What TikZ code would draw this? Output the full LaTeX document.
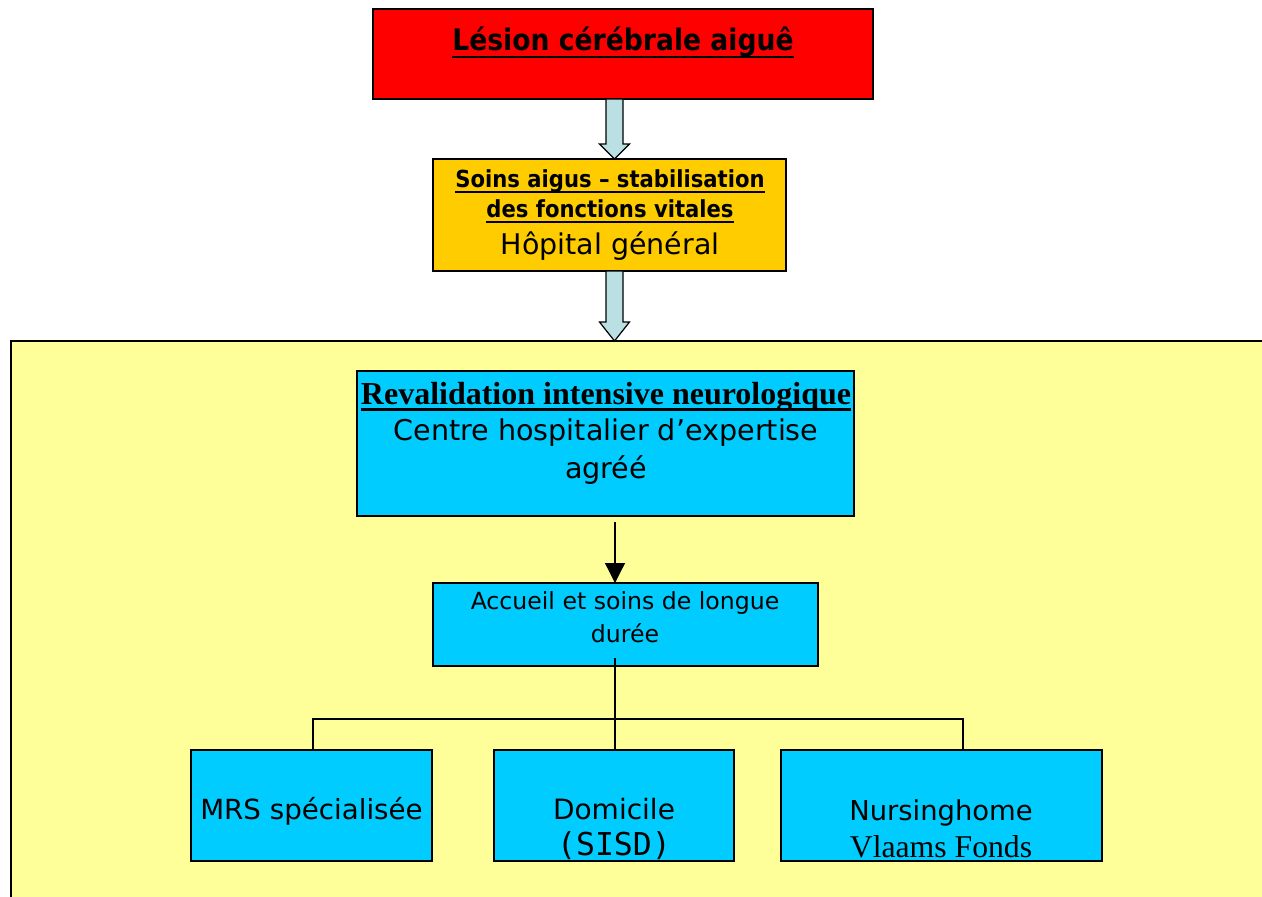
\documentclass[tikz,border=0pt]{standalone}
\usepackage{fontspec}
\setmainfont{DejaVu Sans}
\newfontfamily\cond{DejaVu Sans Condensed}
\newfontfamily\tms{Liberation Serif}
\newfontfamily\monof{DejaVu Sans Mono}
\usetikzlibrary{arrows.meta,calc}
\definecolor{redbox}{HTML}{FF0000}
\definecolor{orangebox}{HTML}{FFCC00}
\definecolor{yellowbg}{HTML}{FFFF99}
\definecolor{cyanbox}{HTML}{00CCFF}
\definecolor{arrowfill}{HTML}{BBE0E3}
\newcommand\myul[3]{\leavevmode\setbox0=\hbox{#3}\rlap{\rule[-#1]{\wd0}{#2}}\box0}
\tikzset{
  boxst/.style={draw=black, line width=1.5pt, inner sep=0pt, outer sep=0pt, anchor=north west},
  txt/.style={inner sep=0pt, anchor=base},
  blockarrow/.style={draw=black, line width=1.2pt, fill=arrowfill, line join=miter},
  conn/.style={draw=black, line width=1.3pt}
}
\begin{document}
\begin{tikzpicture}[x=1pt,y=-1pt]
\useasboundingbox (0,0) rectangle (1262,897);
\clip (0,0) rectangle (1262,897);
% yellow background area
\node[boxst, fill=yellowbg, minimum width=1270pt, minimum height=580pt] (bg) at (11,341) {};
% boxes
\node[boxst, fill=redbox, minimum width=500pt, minimum height=90pt] (red) at (373,9) {};
\node[boxst, fill=orangebox, minimum width=353pt, minimum height=112pt] (orange) at (433,159) {};
\node[boxst, fill=cyanbox, minimum width=497pt, minimum height=145pt] (reval) at (357,371) {};
\node[boxst, fill=cyanbox, minimum width=385pt, minimum height=83pt] (accueil) at (433,583) {};
\node[boxst, fill=cyanbox, minimum width=241pt, minimum height=111pt] (mrs) at (191,750) {};
\node[boxst, fill=cyanbox, minimum width=240pt, minimum height=111pt] (dom) at (494,750) {};
\node[boxst, fill=cyanbox, minimum width=321pt, minimum height=111pt] (nurs) at (781,750) {};
% texts
\node[txt] (t1) at (623,50) {\fontsize{29.6}{36}\selectfont\cond\bfseries\myul{8pt}{2.5pt}{Lésion cérébrale aiguê}};
\node[txt] (t2a) at (610,187) {\fontsize{23.5}{28}\selectfont\cond\bfseries\myul{6pt}{2pt}{Soins aigus – stabilisation}};
\node[txt] (t2b) at (610,217) {\fontsize{23.5}{28}\selectfont\cond\bfseries\myul{6pt}{2pt}{des fonctions vitales}};
\node[txt] (t2c) at (610,254) {\fontsize{28.5}{32}\selectfont Hôpital général};
\node[txt] (t3a) at (606,404) {\fontsize{32}{36}\selectfont\tms\bfseries\myul{6.5pt}{3pt}{Revalidation intensive neurologique}};
\node[txt] (t3b) at (606,440) {\fontsize{28.6}{32}\selectfont Centre hospitalier d’expertise};
\node[txt] (t3c) at (606,478) {\fontsize{28.6}{32}\selectfont agréé};
\node[txt] (t4a) at (625,609) {\fontsize{23.6}{28}\selectfont Accueil et soins de longue};
\node[txt] (t4b) at (625,642) {\fontsize{23.6}{28}\selectfont durée};
\node[txt] (t5) at (311.5,819) {\fontsize{27.7}{32}\selectfont MRS spécialisée};
\node[txt] (t6a) at (614,819) {\fontsize{28}{32}\selectfont Domicile};
\node[txt] (t6b) at (614,855) {\fontsize{31.5}{34}\selectfont\monof (SISD)};
\node[txt] (t7a) at (941,820) {\fontsize{27.4}{32}\selectfont Nursinghome};
\node[txt] (t7b) at (941,857) {\fontsize{31.7}{34}\selectfont\tms Vlaams Fonds};
% block arrows
\coordinate (ba1) at (614.5,99);
\coordinate (ba2) at (614.5,271);
\draw[blockarrow] ($(ba1)+(-8.5,0)$) -- ($(ba1)+(8.5,0)$) -- ($(ba1)+(8.5,45)$) -- ($(ba1)+(15,45)$)
  -- (ba1 |- orange.north) -- ($(ba1)+(-15,45)$) -- ($(ba1)+(-8.5,45)$) -- cycle;
\draw[blockarrow] ($(ba2)+(-8.5,0)$) -- ($(ba2)+(8.5,0)$) -- ($(ba2)+(8.5,51)$) -- ($(ba2)+(15,51)$)
  -- (ba2 |- bg.north) -- ($(ba2)+(-15,51)$) -- ($(ba2)+(-8.5,51)$) -- cycle;
% arrow reval -> accueil
\coordinate (a1) at (615,522);
\draw[conn, -{Triangle[length=20pt,width=20pt]}] (a1) -- (a1 |- accueil.north);
% branch lines
\coordinate (b0) at (615,658);
\coordinate (hl) at (313,719);
\coordinate (hr) at (963,719);
\draw[conn] (b0) -- (b0 |- dom.north);
\draw[conn] (hl |- mrs.north) -- (hl) -- (hr) -- (hr |- nurs.north);
\end{tikzpicture}
\end{document}
